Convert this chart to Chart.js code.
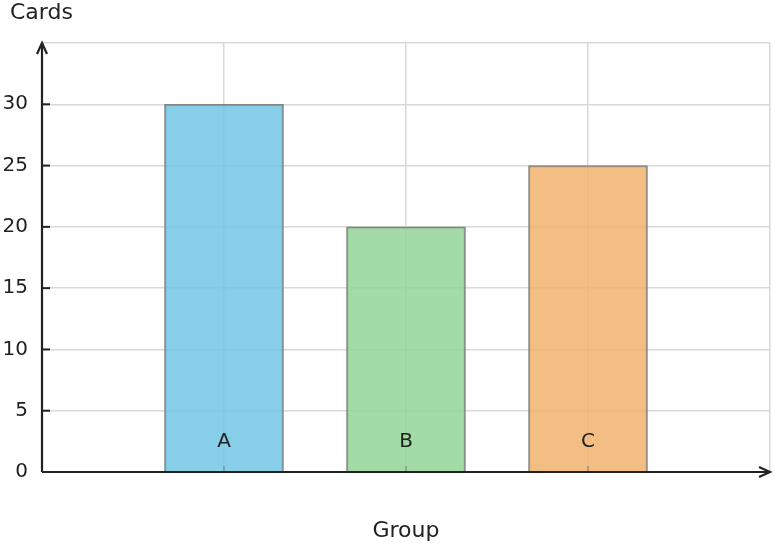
<!DOCTYPE html>
<html>
<head>
<meta charset="utf-8">
<script src="https://cdn.jsdelivr.net/npm/chart.js@4"></script>
<style>
  html, body { margin: 0; padding: 0; background: #fff; }
  #wrap { width: 774px; height: 548px; position: relative; }
</style>
</head>
<body>
<div id="wrap"><canvas id="chart"></canvas></div>
<script>
'use strict';

let groups = ['A', 'B', 'C'];
let cards = [30, 20, 25];
let groupPos = [1, 2, 3];
let yTicks = [0, 5, 10, 15, 20, 25, 30];
let barColors = ['rgba(114,197,229,0.85)', 'rgba(146,213,150,0.85)', 'rgba(240,179,110,0.85)'];

let textColor = '#222222';
let gridColor = '#d9d9d9';
let fontFamily = '"DejaVu Sans", sans-serif';

let points = groups.map((g, i) => ({ x: groupPos[i], y: cards[i] }));

// axis arrows, inward tick marks, group labels and titles
let decorations = {
  id: 'decorations',
  afterDatasetsDraw(chart) {
    let ctx = chart.ctx;
    let area = chart.chartArea;
    let xs = chart.scales.x;
    let ys = chart.scales.y;

    ctx.save();
    ctx.strokeStyle = textColor;
    ctx.fillStyle = textColor;

    // small inward ticks on the y axis
    ctx.lineWidth = 2;
    yTicks.forEach(v => {
      let py = ys.getPixelForValue(v);
      ctx.beginPath();
      ctx.moveTo(area.left, py);
      ctx.lineTo(area.left + 8, py);
      ctx.stroke();
    });

    // short ticks on the x axis, inside the bars
    ctx.strokeStyle = 'rgba(90,90,90,0.35)';
    groupPos.forEach(p => {
      let px = xs.getPixelForValue(p);
      ctx.beginPath();
      ctx.moveTo(px, area.bottom);
      ctx.lineTo(px, area.bottom - 6);
      ctx.stroke();
    });
    ctx.strokeStyle = textColor;

    // axes with arrows
    ctx.lineWidth = 2.2;
    ctx.beginPath();
    ctx.moveTo(area.left, area.bottom);
    ctx.lineTo(area.left, area.top);
    ctx.moveTo(area.left, area.bottom);
    ctx.lineTo(area.right, area.bottom);
    ctx.stroke();

    ctx.beginPath();
    ctx.moveTo(area.left - 5, area.top + 11);
    ctx.lineTo(area.left, area.top);
    ctx.lineTo(area.left + 5, area.top + 11);
    ctx.moveTo(area.right - 11, area.bottom - 5);
    ctx.lineTo(area.right, area.bottom);
    ctx.lineTo(area.right - 11, area.bottom + 5);
    ctx.stroke();

    // group labels sit inside the bars
    ctx.font = '20px ' + fontFamily;
    ctx.textAlign = 'center';
    ctx.textBaseline = 'middle';
    groups.forEach((g, i) => {
      ctx.fillText(g, xs.getPixelForValue(groupPos[i]), ys.getPixelForValue(2.5));
    });

    // axis titles
    ctx.font = '22px ' + fontFamily;
    ctx.textAlign = 'left';
    ctx.textBaseline = 'middle';
    ctx.fillText('Cards', 10, 13);
    ctx.textAlign = 'center';
    ctx.fillText('Group', (area.left + area.right) / 2, 531);
    ctx.restore();
  }
};

let canvas = document.getElementById('chart');

new Chart(canvas, {
  type: 'bar',
  data: {
    datasets: [{
      label: 'Cards',
      data: points,
      backgroundColor: barColors,
      borderColor: 'rgba(120,120,120,0.9)',
      borderWidth: 1.6,
      barThickness: 119
    }]
  },
  options: {
    responsive: true,
    maintainAspectRatio: false,
    animation: false,
    layout: { padding: { top: 43, right: 4, left: 0, bottom: 0 } },
    plugins: {
      legend: { display: false },
      tooltip: { enabled: false }
    },
    scales: {
      x: {
        type: 'linear',
        min: 0,
        max: 4,
        offset: false,
        border: { display: false },
        grid: {
          offset: false,
          color: ctx => (ctx.tick && ctx.tick.value > 0) ? gridColor : 'rgba(0,0,0,0)',
          lineWidth: 1.5,
          drawTicks: false
        },
        ticks: { display: false, stepSize: 1 },
        afterFit(scale) { scale.height = 76; }
      },
      y: {
        min: 0,
        max: 35,
        border: { display: false },
        grid: { color: gridColor, lineWidth: 1.5, drawTicks: false },
        ticks: {
          stepSize: 5,
          padding: 14,
          color: textColor,
          font: { family: fontFamily, size: 20 },
          callback: v => yTicks.includes(v) ? String(v) : ''
        },
        afterFit(scale) { scale.width = 42; }
      }
    }
  },
  plugins: [decorations]
});
</script>
</body>
</html>
